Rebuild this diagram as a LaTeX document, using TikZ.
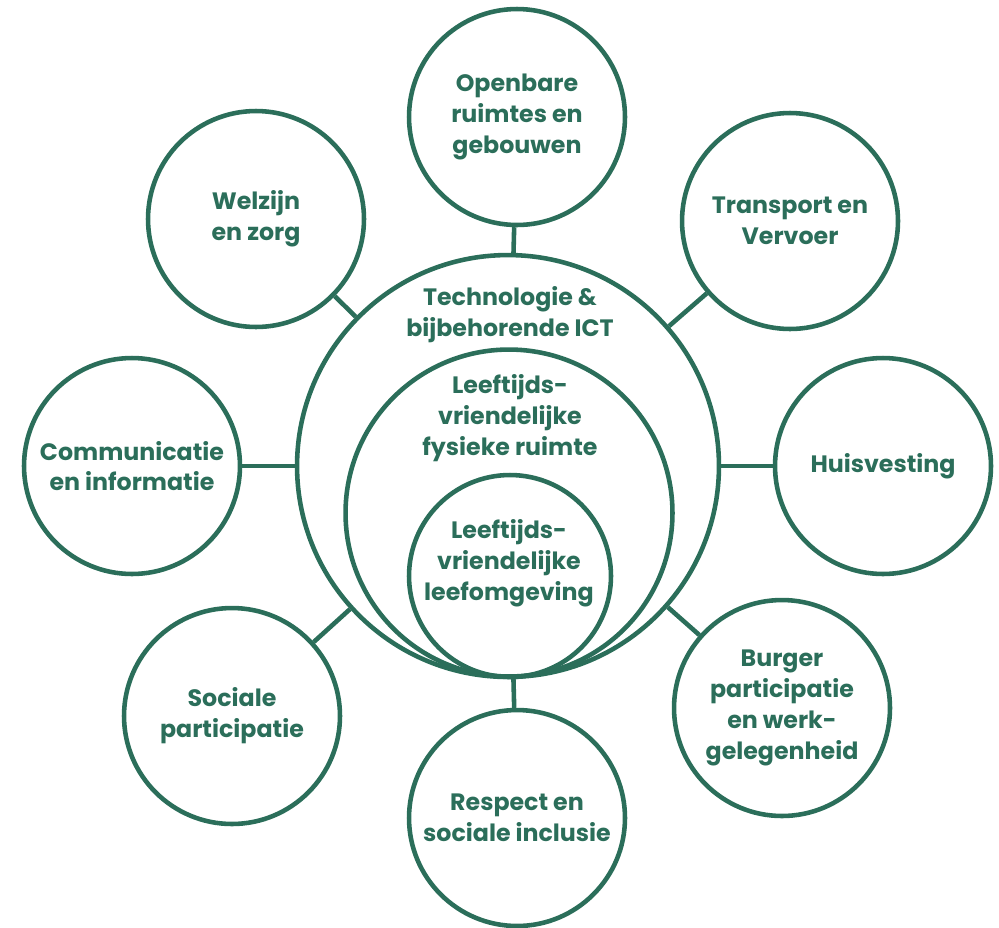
\documentclass[tikz,border=0pt]{standalone}
\usepackage{fontspec}
\setmainfont{Poppins}
\usetikzlibrary{shapes.geometric, positioning}
\definecolor{agegreen}{RGB}{43,110,90}
\tikzstyle{ring} = [
  circle,
  draw=agegreen,
  line width=2.6pt,
  inner sep=0pt
]
\tikzstyle{topic} = [
  ring,
  minimum size=4.32cm
]
\tikzstyle{txt} = [
  text=agegreen,
  align=center,
  font=\bfseries\fontsize{13.5}{17.5}\selectfont
]
\tikzstyle{link} = [draw=agegreen, line width=2.6pt]

\begin{document}
\begin{tikzpicture}[x=0.02cm, y=-0.02cm]
    \useasboundingbox (0,0) rectangle (999,927);
    % nested circles in the middle
    \node (ict) [ring, minimum size=8.44cm] at (508,466) {};
    \node (physical) [ring, minimum size=6.54cm] at (509,513) {};
    \node (living) [ring, minimum size=4.04cm] at (510,576) {};
    \node (ict-text) [txt] at (510,315) {Technologie \&\\bijbehorende ICT};
    \node (physical-text) [txt] at (510,418) {Leeftijds-\\vriendelijke\\fysieke ruimte};
    \node (living-text) [txt] at (509,563) {Leeftijds-\\vriendelijke\\leefomgeving};

    % domains around
    \node (public-space) [topic, txt] at (517,117) {Openbare\\ruimtes en\\gebouwen};
    \node (transport) [topic, txt] at (790,221) {Transport en\\Vervoer};
    \node (housing) [topic, txt] at (883,466) {Huisvesting};
    \node (civic) [topic, txt] at (782,708) {Burger\\participatie\\en werk-\\gelegenheid};
    \node (respect) [topic, txt] at (517,818) {Respect en\\sociale inclusie};
    \node (social) [topic, txt] at (232,716) {Sociale\\participatie};
    \node (communication) [topic, txt] at (132,466) {Communicatie\\en informatie};
    \node (care) [topic, txt] at (256,219) {Welzijn\\en zorg};

    \draw [link] (public-space) -- (ict);
    \draw [link] (transport) -- (ict);
    \draw [link] (housing) -- (ict);
    \draw [link] (civic) -- (ict);
    \draw [link] (respect) -- (ict);
    \draw [link] (social) -- (ict);
    \draw [link] (communication) -- (ict);
    \draw [link] (care) -- (ict);
  \end{tikzpicture}
\end{document}
